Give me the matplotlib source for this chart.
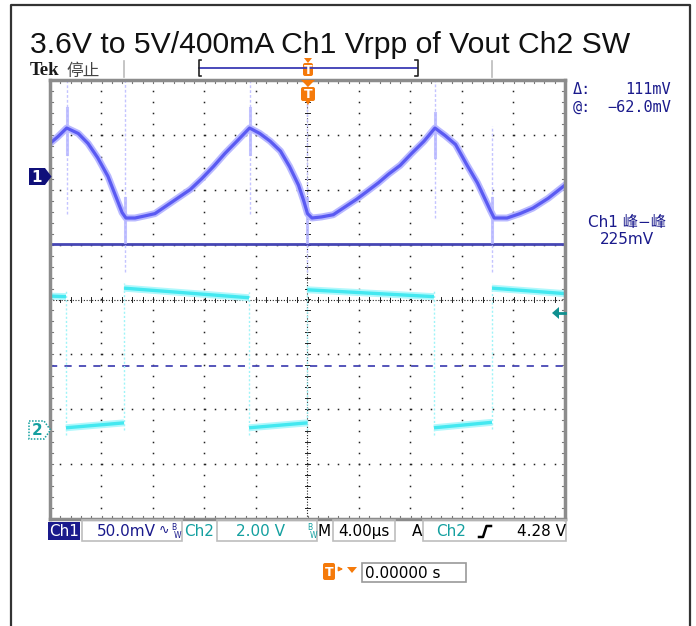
import matplotlib
matplotlib.use("Agg")
import matplotlib.pyplot as plt
import numpy as np
from matplotlib.patches import Rectangle, Polygon, FancyBboxPatch

W, H = 696, 626

# scope settings
time_per_div = 4.0     # us/div
ch1_per_div = 50.0     # mV/div
ch2_per_div = 2.0      # V/div
ch1_pos = 2.245        # marker position, div above centre
ch2_pos = -2.373

# Ch1 ripple of Vout (mV)
ch1_t = [-20.0, -19.4, -18.7, -17.8, -17.05, -16.3, -15.5, -14.9, -14.4, -14.1,
         -13.4, -12.6, -11.85, -11.1, -10.1, -9.1, -8.2, -7.3, -6.4, -5.4, -4.5,
         -3.7, -2.9, -2.1, -1.4, -0.7, -0.3, 0.0, 0.35,
         1.1, 2.0, 2.9, 3.8, 4.6, 5.5, 6.3, 7.2, 8.1, 9.05, 9.9,
         10.7, 11.5, 12.4, 13.2, 13.8, 14.2, 14.5,
         15.5, 16.5, 17.5, 18.7, 20.0]
ch1_mv = [30, 36, 44, 39, 30, 17, 0, -18, -33, -38,
          -38, -36, -34, -28, -20, -12, -2, 9, 21, 33, 44,
          39, 32, 23, 9, -8, -22, -34, -38,
          -37, -35, -28, -21, -14, -6, 2, 10, 21, 32, 44,
          37, 29, 10, -6, -21, -31, -38,
          -38, -34, -29, -20, -8]

# switching spikes on Ch1: time, full extent, dense core
spike_t = [-18.7, -14.2, -4.5, 0.0, 9.9, 14.3]
spike_lo = [-34, -87, -34, -87, -38, -87]
spike_hi = [87, 87, 87, 87, 87, 46]
spike_core_lo = [20, -60, 20, -60, 18, -60]
spike_core_hi = [62, -20, 62, -20, 58, -20]

# Ch2 SW node (V), one flat segment per switch state
ch2_t_start = [-20.0, -18.76, -14.25, -4.54, 0.0, 9.82, 14.33]
ch2_t_end = [-18.76, -14.25, -4.54, 0.0, 9.82, 14.33, 20.0]
ch2_v_start = [4.87, 0.07, 5.16, 0.07, 5.10, 0.07, 5.16]
ch2_v_end = [4.85, 0.25, 4.81, 0.25, 4.85, 0.27, 4.96]

cursor_at = -62.0      # mV
cursor_delta = 111.0   # mV
trig_level = 4.28      # V

navy = "#1a1a8c"
teal = "#14a0a0"
orange = "#f57a0a"

fig = plt.figure(figsize=(W / 100, H / 100), dpi=100)
fig.patch.set_facecolor("white")

# ---- graticule ----
ax = fig.add_axes([50 / W, 1 - 519 / H, 515 / W, 439 / H], zorder=1)
ax.set_xlim(-5 * time_per_div, 5 * time_per_div)
ax.set_ylim(-4, 4)
ax.set_xticks([])
ax.set_yticks([])
for s in ax.spines.values():
    s.set_color("#8c8c8c")
    s.set_linewidth(2.5)

xs_fine = np.arange(-20, 20.01, time_per_div / 5)
ys_fine = np.arange(-4, 4.01, 0.2)
for k in [-4, -3, -2, -1, 1, 2, 3, 4]:
    xv = k * time_per_div
    ax.plot(np.full_like(ys_fine, xv), ys_fine, ls="none", marker="s", ms=1.1, color="#222222", mew=0)
for k in [-3, -2, -1, 1, 2, 3]:
    ax.plot(xs_fine, np.full_like(xs_fine, k), ls="none", marker="s", ms=1.1, color="#222222", mew=0)
# centre lines with ticks
ax.axhline(0, color="#222222", lw=0.8, ls=(0, (1, 1.5)))
ax.axvline(0, color="#222222", lw=0.8, ls=(0, (1, 1.5)))
for xv in xs_fine:
    ax.plot([xv, xv], [-0.05, 0.05], color="#222222", lw=0.7)
    ax.plot([xv, xv], [-4, -3.94], color="#777777", lw=0.8)
    ax.plot([xv, xv], [4, 3.94], color="#777777", lw=0.8)
for yv in ys_fine:
    ax.plot([-0.22, 0.22], [yv, yv], color="#222222", lw=0.7)
    ax.plot([-20, -19.75], [yv, yv], color="#777777", lw=0.8)
    ax.plot([20, 19.75], [yv, yv], color="#777777", lw=0.8)

# cursors (Ch1 units)
y_cur1 = cursor_at / ch1_per_div + ch1_pos
y_cur2 = (cursor_at - cursor_delta) / ch1_per_div + ch1_pos
ax.axhline(y_cur1, color="#4646b4", lw=2)
ax.axhline(y_cur2, color="#4646b4", lw=1.3, ls=(0, (4, 4)))

# Ch1 spikes
for t, lo, hi, clo, chi in zip(spike_t, spike_lo, spike_hi, spike_core_lo, spike_core_hi):
    ax.plot([t, t], [lo / ch1_per_div + ch1_pos, hi / ch1_per_div + ch1_pos],
            color="#c4c4ff", lw=1.0, ls=(0, (2, 1.5)))
    ax.plot([t, t], [clo / ch1_per_div + ch1_pos, chi / ch1_per_div + ch1_pos],
            color="#b4b4ff", lw=2.2, alpha=0.8)

# Ch1 trace
y1 = np.array(ch1_mv) / ch1_per_div + ch1_pos
ax.plot(ch1_t, y1, color="#b8b8ff", lw=5, solid_joinstyle="round")
ax.plot(ch1_t, y1, color="#5a5af2", lw=2.3, solid_joinstyle="round")

# Ch2 edges (faint)
edge_t = ch2_t_start[1:]
for i, t in enumerate(edge_t):
    lo = min(ch2_v_end[i], ch2_v_start[i + 1])
    hi = max(ch2_v_end[i], ch2_v_start[i + 1])
    ax.plot([t, t], [(lo - 0.25) / ch2_per_div + ch2_pos, (hi + 0.2) / ch2_per_div + ch2_pos],
            color="#9ff4f8", lw=1.0, ls=(0, (1.5, 1.5)))

# Ch2 trace
for t0, t1, v0, v1 in zip(ch2_t_start, ch2_t_end, ch2_v_start, ch2_v_end):
    yy = [v0 / ch2_per_div + ch2_pos, v1 / ch2_per_div + ch2_pos]
    ax.plot([t0, t1], yy, color="#b0f8fc", lw=5, solid_capstyle="butt")
    ax.plot([t0, t1], yy, color="#44e8f0", lw=2.4, solid_capstyle="butt")

# ---- overlay in pixel coordinates ----
ov = fig.add_axes([0, 0, 1, 1], zorder=3)
ov.set_xlim(0, W)
ov.set_ylim(H, 0)
ov.axis("off")

# outer frame
ov.plot([10.5, 10.5, 690, 690], [626, 4.5, 4.5, 626], color="#333333", lw=1.6)

ov.text(30, 53, "3.6V to 5V/400mA Ch1 Vrpp of Vout Ch2 SW", fontsize=21.7,
        family="Liberation Sans", va="baseline", ha="left", color="#111111")

ov.text(30, 75, "Tek", fontsize=13.5, family="Liberation Serif", fontweight="bold",
        va="baseline", ha="left", color="#1a1a1a")
ov.text(66, 76, "停止", fontsize=12, family=["Noto Sans CJK SC"], va="baseline",
        ha="left", color="#444444")

# record bar
ov.plot([199, 417], [68, 68], color="#3a3ab4", lw=1.3)
ov.plot([201, 198.5, 198.5, 201], [60, 60, 76, 76], color="#222222", lw=1.2)
ov.plot([415, 417.5, 417.5, 415], [60, 60, 76, 76], color="#222222", lw=1.2)
ov.plot([124, 124], [61, 77], color="#bbbbbb", lw=1.2)
ov.plot([492, 492], [61, 77], color="#bbbbbb", lw=1.2)


def t_badge(xc, y0, h, w=11):
    ov.add_patch(FancyBboxPatch((xc - w / 2, y0), w, h, boxstyle="round,pad=0,rounding_size=2",
                                fc=orange, ec="none"))
    ov.text(xc, y0 + h / 2 + 0.5, "T", color="white", fontsize=9, fontweight="bold",
            ha="center", va="center", family="DejaVu Sans")


ov.add_patch(Polygon([(304, 58), (312, 58), (308, 63)], closed=True, fc=orange, ec="none"))
t_badge(308, 63, 13, w=10)
ov.add_patch(Polygon([(301, 80), (315, 80), (308, 87)], closed=True, fc=orange, ec="none"))
t_badge(308, 87, 14, w=14)
ov.add_patch(Polygon([(305, 100), (311, 100), (308, 105)], closed=True, fc=orange, ec="none"))

# right readouts
mono = "DejaVu Sans Mono"
ov.text(573, 90, "Δ:", color=navy, fontsize=11, family=mono, va="center", ha="left")
ov.text(671, 90, "%dmV" % cursor_delta, color=navy, fontsize=11, family=mono, va="center", ha="right")
ov.text(573, 107, "@:", color=navy, fontsize=11, family=mono, va="center", ha="left")
ov.text(671, 107, "−%.1fmV" % abs(cursor_at), color=navy, fontsize=11, family=mono, va="center", ha="right")
ov.text(627, 223, "Ch1 峰−峰", color=navy, fontsize=11, family=["DejaVu Sans", "Noto Sans CJK SC"],
        va="center", ha="center")
ov.text(627, 240, "225mV", color=navy, fontsize=11, family="DejaVu Sans", va="center", ha="center")

# channel markers
ov.add_patch(Polygon([(29, 168), (45, 168), (51.5, 176.5), (45, 185), (29, 185)], closed=True,
                     fc="#10107a", ec="none"))
ov.text(37, 177, "1", color="white", fontsize=11, fontweight="bold", ha="center", va="center")
ov.add_patch(Polygon([(29, 421), (44, 421), (50.5, 430), (44, 439), (29, 439)], closed=True,
                     fc="white", ec=teal, lw=1.1, ls=(0, (1, 1))))
ov.text(37, 430.5, "2", color=teal, fontsize=11, fontweight="bold", ha="center", va="center")

# trigger level arrow
ov.add_patch(Polygon([(552, 313), (559, 307), (559, 319)], closed=True, fc="#109090", ec="none"))
ov.plot([558, 565], [313, 313], color="#109090", lw=2)

# bottom readout bar
ov.add_patch(Rectangle((48, 522), 32, 18, fc=navy, ec="none"))
ov.text(64, 531.5, "Ch1", color="white", fontsize=11, ha="center", va="center")
for x0, x1 in [(82, 182), (217, 317), (333, 395), (423, 566)]:
    ov.add_patch(Rectangle((x0, 520), x1 - x0, 21, fc="none", ec="#bdbdbd", lw=1.2))
ov.text(126, 531.5, "%.1fmV" % ch1_per_div, color=navy, fontsize=11, ha="center", va="center")
ov.text(164, 530, "∿", color=navy, fontsize=9, ha="center", va="center")
for xb, col in [(174, navy), (310, teal)]:
    ov.text(xb, 527, "B", color=col, fontsize=5.5, ha="center", va="center")
    ov.text(xb + 4, 535, "W", color=col, fontsize=5.5, ha="center", va="center")
ov.text(199, 531.5, "Ch2", color=teal, fontsize=11, ha="center", va="center")
ov.text(261, 531.5, "%.2f V" % ch2_per_div, color=teal, fontsize=11, ha="center", va="center")
ov.text(324, 531.5, "M", color="black", fontsize=11, ha="center", va="center")
ov.text(364, 531.5, "%.2fµs" % time_per_div, color="black", fontsize=11, ha="center", va="center")
ov.text(417, 531.5, "A", color="black", fontsize=11, ha="center", va="center")
ov.text(451, 531.5, "Ch2", color=teal, fontsize=11, ha="center", va="center")
ov.plot([479, 483, 486.5, 491], [537, 537, 526, 526], color="black", lw=1.8)
ov.text(566, 531.5, "%.2f V" % trig_level, color="black", fontsize=11, ha="right", va="center")

# trigger position readout
t_badge(329, 563, 17, w=12)
ov.annotate("", xy=(346, 569), xytext=(336, 569),
            arrowprops=dict(arrowstyle="-|>", color=orange, lw=1, mutation_scale=6))
ov.add_patch(Polygon([(347, 567), (357, 567), (352, 573)], closed=True, fc=orange, ec="none"))
ov.add_patch(Rectangle((362, 563), 104, 19, fc="white", ec="#9a9a9a", lw=1.2))
ov.text(365, 573, "0.00000 s", color="black", fontsize=11, ha="left", va="center")

fig.savefig("out.png", dpi=100)
